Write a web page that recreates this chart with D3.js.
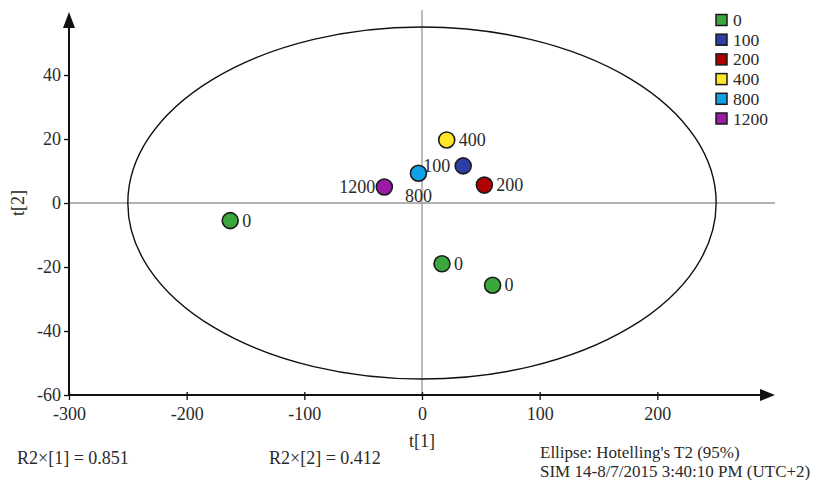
<!DOCTYPE html>
<html>
<head>
<meta charset="utf-8">
<script src="https://cdn.jsdelivr.net/npm/d3@7"></script>
<style>
  body { margin: 0; background: #fff; }
  text { font-family: "Liberation Serif", "DejaVu Serif", serif; fill: #2a2a2a; }
</style>
</head>
<body>
<svg width="835" height="480"></svg>
<script>
//
// data
//
var groups = ["0", "100", "200", "400", "800", "1200"];
var groupColors = ["#3ba63b", "#2c3ea6", "#b00000", "#ffe629", "#0fa2ea", "#9b1aa6"];

var pointGroup = ["0", "0", "0", "1200", "800", "400", "100", "200"];
var pointT1 = [-163, 17, 60, -32, -3, 21, 35, 53];
var pointT2 = [-5.5, -19, -25.7, 5, 9.3, 19.7, 11.6, 5.6];

var xTicks = [-300, -200, -100, 0, 100, 200];
var yTicks = [-60, -40, -20, 0, 20, 40];

var ellipseA = 250, ellipseB = 55;

var footLeft = ["R2\u00d7[1] = 0.851", "R2\u00d7[2] = 0.412"];
var footRight = ["Ellipse: Hotelling's T2 (95%)", "SIM 14-8/7/2015 3:40:10 PM (UTC+2)"];

//
// scales
//
var svg = d3.select("svg");
var x = d3.scaleLinear().domain([-300, 300]).range([69, 775]);
var y = d3.scaleLinear().domain([-60, 60]).range([395, 11]);
var color = d3.scaleOrdinal().domain(groups).range(groupColors);

// zero lines
svg.append("line")
  .attr("x1", x(-300)).attr("x2", x(300))
  .attr("y1", y(0)).attr("y2", y(0))
  .attr("stroke", "#999").attr("stroke-width", 1.3);
svg.append("line")
  .attr("x1", x(0)).attr("x2", x(0))
  .attr("y1", y(60) - 1).attr("y2", y(-60))
  .attr("stroke", "#999").attr("stroke-width", 1.3);

// ellipse
svg.append("ellipse")
  .attr("cx", x(0)).attr("cy", y(0))
  .attr("rx", x(ellipseA) - x(0))
  .attr("ry", y(0) - y(ellipseB))
  .attr("fill", "none").attr("stroke", "#111").attr("stroke-width", 1.4);

// axes
var fmt = function(d) { return String(d); };
var xAxis = svg.append("g")
  .attr("transform", "translate(0," + y(-60) + ")")
  .call(d3.axisBottom(x).tickValues(xTicks).tickSize(5).tickSizeOuter(0).tickFormat(fmt));
xAxis.select(".domain").remove();
xAxis.selectAll("line").attr("stroke", "#111").attr("stroke-width", 1.3).attr("y1", -3);
xAxis.selectAll("text").attr("dy", "0.95em");

var yAxis = svg.append("g")
  .attr("transform", "translate(" + x(-300) + ",0)")
  .call(d3.axisLeft(y).tickValues(yTicks).tickSize(5).tickSizeOuter(0).tickFormat(fmt));
yAxis.select(".domain").remove();
yAxis.selectAll("line").attr("stroke", "#111").attr("stroke-width", 1.3);
svg.selectAll(".tick text")
  .attr("font-family", "Liberation Serif")
  .attr("font-size", 18)
  .attr("fill", "#2a2a2a");

// axis lines with arrows
svg.append("line")
  .attr("x1", x(-300)).attr("x2", 762)
  .attr("y1", y(-60)).attr("y2", y(-60))
  .attr("stroke", "#111").attr("stroke-width", 2);
svg.append("path")
  .attr("d", "M760," + (y(-60) - 6) + "L775," + y(-60) + "L760," + (y(-60) + 6) + "Z")
  .attr("fill", "#111");
svg.append("line")
  .attr("x1", x(-300)).attr("x2", x(-300))
  .attr("y1", y(-60)).attr("y2", 25)
  .attr("stroke", "#111").attr("stroke-width", 2);
svg.append("path")
  .attr("d", "M" + (x(-300) - 6) + ",28L" + x(-300) + ",12L" + (x(-300) + 6) + ",28Z")
  .attr("fill", "#111");

// axis titles
svg.append("text")
  .attr("x", x(0)).attr("y", 447)
  .attr("text-anchor", "middle").attr("font-size", 18)
  .text("t[1]");
svg.append("text")
  .attr("transform", "translate(24," + y(0) + ") rotate(-90)")
  .attr("text-anchor", "middle").attr("font-size", 18)
  .text("t[2]");

// points
var pts = pointT1.map(function(d, i) {
  return { t1: d, t2: pointT2[i], g: pointGroup[i] };
});
svg.selectAll(".pt").data(pts).join("circle")
  .attr("class", "pt")
  .attr("cx", function(d) { return x(d.t1); })
  .attr("cy", function(d) { return y(d.t2); })
  .attr("r", 8)
  .attr("fill", function(d) { return color(d.g); })
  .attr("stroke", "#1a1a1a").attr("stroke-width", 1.6);

// point labels
function labelPos(d) {
  if (d.g === "1200") return { dx: -9, dy: 6, anchor: "end" };
  if (d.g === "100") return { dx: -13, dy: 6, anchor: "end" };
  if (d.g === "800") return { dx: 0, dy: 29, anchor: "middle" };
  return { dx: 12, dy: 6, anchor: "start" };
}
svg.selectAll(".lbl").data(pts).join("text")
  .attr("class", "lbl")
  .attr("x", function(d) { return x(d.t1) + labelPos(d).dx; })
  .attr("y", function(d) { return y(d.t2) + labelPos(d).dy; })
  .attr("text-anchor", function(d) { return labelPos(d).anchor; })
  .attr("font-size", 18)
  .text(function(d) { return d.g; });

// legend
var legend = svg.selectAll(".leg").data(groups).join("g")
  .attr("class", "leg")
  .attr("transform", function(d, i) { return "translate(716," + (14.5 + i * 19.7) + ")"; });
legend.append("rect")
  .attr("width", 11).attr("height", 11)
  .attr("fill", function(d) { return color(d); })
  .attr("stroke", "#1a1a1a").attr("stroke-width", 1.5);
legend.append("text")
  .attr("x", 17).attr("y", 11.5)
  .attr("font-size", 17.5)
  .text(function(d) { return d; });

// footer
svg.selectAll(".footL").data(footLeft).join("text")
  .attr("class", "footL")
  .attr("x", function(d, i) { return i === 0 ? 17 : 269; })
  .attr("y", 464)
  .attr("font-size", 18)
  .text(function(d) { return d; });
svg.selectAll(".footR").data(footRight).join("text")
  .attr("class", "footR")
  .attr("x", 540)
  .attr("y", function(d, i) { return 458 + i * 19; })
  .attr("font-size", 17)
  .text(function(d) { return d; });
</script>
</body>
</html>
